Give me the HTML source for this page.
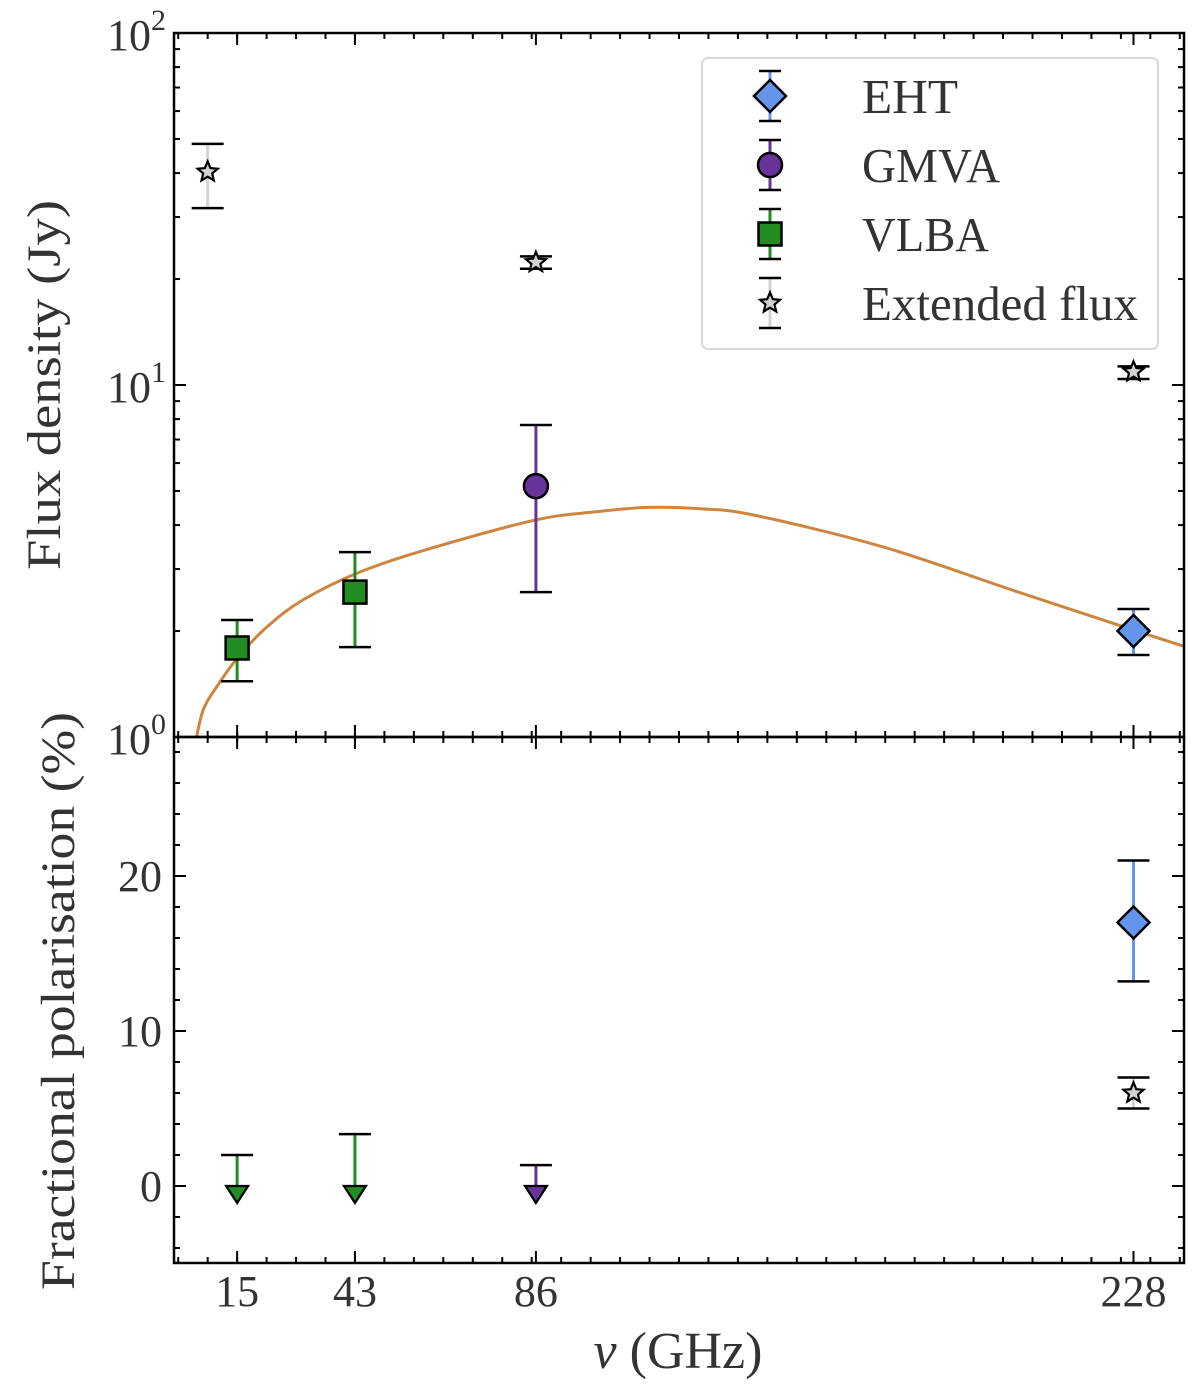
<!DOCTYPE html>
<html><head><meta charset="utf-8">
<style>
html,body{margin:0;padding:0;background:#fff;}
svg{display:block;}
text{font-family:"Liberation Serif","DejaVu Serif",serif;fill:#333;}
</style></head>
<body>
<svg id="chart" width="1200" height="1394" viewBox="0 0 1200 1394" xmlns="http://www.w3.org/2000/svg">
<g id="marks"></g>
</svg>
<script>
// ---- data ----
const xMajorTicks = [15, 43, 86, 228];
const topYTicks = [0, 1, 2]; // log10 exponents
const botYTicks = [0, 10, 20];
const extFreq = [8, 86, 228];
const extFlux = [40.3, 22.3, 10.9];
const extFluxHi = [48.4, 23.2, 11.3];
const extFluxLo = [31.8, 21.4, 10.4];
const vlbaFreq = [15, 43];
const vlbaFlux = [1.79, 2.58];
const vlbaFluxHi = [2.15, 3.35];
const vlbaFluxLo = [1.44, 1.80];
const gmvaFreq = [86];
const gmvaFlux = [5.16];
const gmvaFluxHi = [7.7];
const gmvaFluxLo = [2.58];
const ehtFreq = [228];
const ehtFlux = [2.0];
const ehtFluxHi = [2.31];
const ehtFluxLo = [1.71];
const fitFreq = [5.0, 7, 10.7, 15.3, 22, 30.6, 44.4, 61.2, 85.7, 100, 112.5, 125, 137.8, 168.4, 199, 228.2, 240];
const fitFlux = [0.95, 1.2, 1.42, 1.69, 2.05, 2.45, 2.95, 3.44, 4.13, 4.36, 4.49, 4.45, 4.27, 3.47, 2.62, 2.01, 1.81];
const ehtPolFreq = [228];
const ehtPol = [17.0];
const ehtPolHi = [21.0];
const ehtPolLo = [13.2];
const extPolFreq = [228];
const extPol = [6.0];
const extPolHi = [7.0];
const extPolLo = [5.0];
const limFreq = [15, 43, 86];
const limVal = [2.0, 3.35, 1.35];
const limColor = ['#228b22', '#228b22', '#663399'];

// ---- axes ----
const L = 174, R = 1184, T = 33, M = 737, B = 1263;
const X0 = 0, X1 = 240;
function sx(v){ return L + (v - X0) / (X1 - X0) * (R - L); }
function syTop(v){ return M - (Math.log10(v) - 0) / 2 * (M - T); }
function syBot(v){ return 1186 - v * 15.5; }

const NS = 'http://www.w3.org/2000/svg';
const g = document.getElementById('marks');
function el(tag, attrs, parent){
  const e = document.createElementNS(NS, tag);
  for (const k in attrs) e.setAttribute(k, attrs[k]);
  (parent || g).appendChild(e);
  return e;
}
function line(x1,y1,x2,y2,stroke,w,parent){ return el('line',{x1,y1,x2,y2,stroke,'stroke-width':w},parent); }

// fit curve (Catmull-Rom smoothing through read points)
const pts = fitFreq.map((f,i)=>[sx(f), syTop(fitFlux[i])]);
let d = 'M' + pts[0][0].toFixed(1) + ',' + pts[0][1].toFixed(1);
for (let i=0;i<pts.length-1;i++){
  const p0 = pts[i-1] || pts[i], p1 = pts[i], p2 = pts[i+1], p3 = pts[i+2] || pts[i+1];
  const c1 = [p1[0] + (p2[0]-p0[0])/6, p1[1] + (p2[1]-p0[1])/6];
  const c2 = [p2[0] - (p3[0]-p1[0])/6, p2[1] - (p3[1]-p1[1])/6];
  d += 'C' + c1.map(v=>v.toFixed(1)).join(',') + ' ' + c2.map(v=>v.toFixed(1)).join(',') + ' ' + p2.map(v=>v.toFixed(1)).join(',');
}
const clip = el('clipPath',{id:'topclip'});
el('rect',{x:L,y:T,width:R-L,height:M-T},clip);
const curve = el('path',{d, fill:'none', stroke:'#cd853f','stroke-width':3,'clip-path':'url(#topclip)'});



function errbar(x, yHi, yLo, color, capW, name){
  const grp = el('g', {});
  
  
  line(x, yHi, x, yLo, color, 3, grp);
  line(x-capW, yHi, x+capW, yHi, '#000', 2.5, grp);
  line(x-capW, yLo, x+capW, yLo, '#000', 2.5, grp);
  return grp;
}
function starPath(cx, cy, r){
  let p = '';
  for (let i=0;i<10;i++){
    const a = -Math.PI/2 + i*Math.PI/5;
    const rr = i%2 ? r*0.45 : r;
    p += (i?'L':'M') + (cx + rr*Math.cos(a)).toFixed(1) + ',' + (cy + rr*Math.sin(a)).toFixed(1);
  }
  return p + 'Z';
}
function marker(type, cx, cy, fill, parent, name){
  let m;
  if (type === 'square') m = el('rect',{x:cx-11.5,y:cy-11.5,width:23,height:23,fill,stroke:'#000','stroke-width':2.5},parent);
  else if (type === 'circle') m = el('circle',{cx,cy,r:12,fill,stroke:'#000','stroke-width':2.5},parent);
  else if (type === 'diamond') m = el('path',{d:`M${cx},${cy-16}L${cx+16},${cy}L${cx},${cy+16}L${cx-16},${cy}Z`,fill,stroke:'#000','stroke-width':2.5},parent);
  else m = el('path',{d:starPath(cx,cy,10.5),fill,stroke:'#000','stroke-width':2.2,'stroke-linejoin':'miter'},parent);
  
  
  return m;
}
function series(freq, val, hi, lo, sy, color, type, fill, name){
  freq.forEach((f,i)=>{
    const x = sx(f);
    const grp = errbar(x, sy(hi[i]), sy(lo[i]), color, 16, name + '-errorbar');
    marker(type, x, sy(val[i]), fill, grp, name + '-point');
  });
}
series(extFreq, extFlux, extFluxHi, extFluxLo, syTop, '#d3d3d3', 'star', '#d3d3d3', 'extended-flux');
series(vlbaFreq, vlbaFlux, vlbaFluxHi, vlbaFluxLo, syTop, '#228b22', 'square', '#228b22', 'vlba');
series(gmvaFreq, gmvaFlux, gmvaFluxHi, gmvaFluxLo, syTop, '#663399', 'circle', '#663399', 'gmva');
series(ehtFreq, ehtFlux, ehtFluxHi, ehtFluxLo, syTop, '#6495ed', 'diamond', '#6495ed', 'eht');
series(ehtPolFreq, ehtPol, ehtPolHi, ehtPolLo, syBot, '#6495ed', 'diamond', '#6495ed', 'eht-polarisation');
series(extPolFreq, extPol, extPolHi, extPolLo, syBot, '#d3d3d3', 'star', '#d3d3d3', 'extended-polarisation');

// upper limits
limFreq.forEach((f,i)=>{
  const x = sx(f), yc = syBot(limVal[i]), y0 = syBot(0);
  const grp = el('g',{});
  
  
  line(x, yc, x, y0, limColor[i], 3, grp);
  line(x-16, yc, x+16, yc, '#000', 2.5, grp);
  el('path',{d:`M${x-11},${y0}L${x+11},${y0}L${x},${y0+17}Z`,fill:limColor[i],stroke:'#000','stroke-width':2.2},grp);
});

// ---- frames and ticks ----
const axg = el('g',{});


el('rect',{x:L,y:T,width:R-L,height:M-T,fill:'none',stroke:'#000','stroke-width':2.5},axg);
el('rect',{x:L,y:M,width:R-L,height:B-M,fill:'none',stroke:'#000','stroke-width':2.5},axg);
const minorX = [];
for (let v=1; v<X1; v+=7) minorX.push(v);
function xTicks(yEdge, dir){
  minorX.forEach(v=>line(sx(v), yEdge, sx(v), yEdge + dir*6, '#000', 2, axg));
  xMajorTicks.forEach(v=>line(sx(v), yEdge, sx(v), yEdge + dir*12, '#000', 2, axg));
}
xTicks(T, 1); xTicks(M, -1); xTicks(M, 1); xTicks(B, -1);
for (let e=0; e<2; e++){
  for (let k=2; k<10; k++){
    const y = syTop(k*Math.pow(10,e));
    line(L, y, L+6, y, '#000', 2, axg); line(R, y, R-6, y, '#000', 2, axg);
  }
}
topYTicks.forEach(e=>{
  const y = syTop(Math.pow(10,e));
  line(L, y, L+12, y, '#000', 2, axg); line(R, y, R-12, y, '#000', 2, axg);
  const t = el('text',{x:L-8,y:y+17,'font-size':44,'text-anchor':'end'});
  
  
  const a = document.createElementNS(NS,'tspan'); a.textContent = '10'; t.appendChild(a);
  const b = document.createElementNS(NS,'tspan'); b.setAttribute('dy','-20'); b.setAttribute('font-size','30'); b.textContent = String(e); t.appendChild(b);
});
for (let v=-4; v<=28; v+=2){
  const y = syBot(v);
  const len = (v % 10 === 0) ? 12 : 6;
  line(L, y, L+len, y, '#000', 2, axg); line(R, y, R-len, y, '#000', 2, axg);
}
botYTicks.forEach(v=>{
  const t = el('text',{x:L-12,y:syBot(v)+15,'font-size':44,'text-anchor':'end'});
  t.textContent = String(v);
  
  
});
xMajorTicks.forEach(v=>{
  const t = el('text',{x:sx(v),y:1306,'font-size':44,'text-anchor':'middle'});
  t.textContent = String(v);
  
  
});

let t = el('text',{x:0,y:0,'font-size':48,'text-anchor':'middle',textLength:370,lengthAdjust:'spacingAndGlyphs',transform:'translate(60,385) rotate(-90)'});
t.textContent = 'Flux density (Jy)';


t = el('text',{x:0,y:0,'font-size':48,'text-anchor':'middle',textLength:578,lengthAdjust:'spacingAndGlyphs',transform:'translate(74,1001) rotate(-90)'});
t.textContent = 'Fractional polarisation (%)';


t = el('text',{x:678,y:1368,'font-size':52,'text-anchor':'middle'});
t.innerHTML = '<tspan font-style="italic">ν</tspan> (GHz)';



// legend
const lg = el('g',{});


el('rect',{x:702,y:58,width:456,height:291,rx:6,fill:'#fff','fill-opacity':0.85,stroke:'#d9d9d9','stroke-width':2},lg);
const legNames = ['EHT','GMVA','VLBA','Extended flux'];
const legTypes = ['diamond','circle','square','star'];
const legColors = ['#6495ed','#663399','#228b22','#d3d3d3'];
const legWidths = [96, 138, 127, 276];
legNames.forEach((n,i)=>{
  const y = 96 + i*69;
  const e = el('g',{},lg);
  
  
  line(770, y-25, 770, y+25, legColors[i], 3, e);
  line(759, y-25, 781, y-25, '#000', 2.5, e);
  line(759, y+25, 781, y+25, '#000', 2.5, e);
  marker(legTypes[i], 770, y, legColors[i], e, 'legend-marker');
  const tx = el('text',{x:862,y:y+17,'font-size':49,textLength:legWidths[i],lengthAdjust:'spacingAndGlyphs'},e);
  tx.textContent = n;
});
</script>
</body></html>
